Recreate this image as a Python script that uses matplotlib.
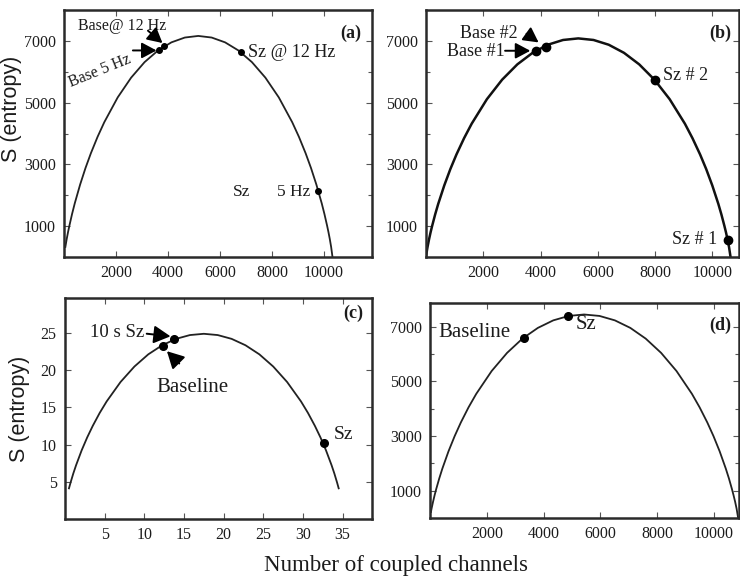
import matplotlib
matplotlib.use("Agg")
import matplotlib.pyplot as plt
from matplotlib.ticker import FixedLocator

# curve and marker values for the four entropy panels
a_x = [52, 103, 155, 207, 310, 413, 620, 826, 1033, 1291, 1550, 2066, 2583, 3099, 3616, 4132, 4649, 5165,
       5681, 6198, 6714, 7231, 7748, 8264, 8780, 9039, 9297, 9504, 9710, 9917, 10020, 10123, 10175, 10227, 10278, 10330]
a_s = [325, 578, 805, 1012, 1392, 1735, 2345, 2880, 3358, 3891, 4366, 5169, 5809, 6311, 6688, 6952, 7108, 7160,
       7108, 6952, 6688, 6311, 5809, 5169, 4366, 3891, 3358, 2880, 2345, 1735, 1392, 1012, 805, 578, 325, 0]
a_pts_x = [3666, 3858, 6808, 9790]
a_pts_s = [6690, 6830, 6630, 2150]

b_x = [0, 32, 53, 106, 159, 213, 319, 425, 638, 850, 1063, 1329, 1595, 2126, 2658, 3189, 3721, 4252, 4784, 5315,
       5847, 6378, 6910, 7441, 7973, 8504, 9036, 9301, 9567, 9780, 9992, 10205, 10311, 10417, 10471, 10524, 10577, 10630]
b_s = [0, 208, 322, 572, 796, 1001, 1377, 1716, 2319, 2848, 3321, 3848, 4318, 5112, 5744, 6240, 6613, 6875, 7029, 7080,
       7029, 6875, 6613, 6240, 5744, 5112, 4318, 3848, 3321, 2848, 2319, 1716, 1377, 1001, 796, 572, 322, 0]
b_pts_x = [3839, 4188, 7993, 10552]
b_pts_s = [6660, 6806, 5730, 540]

c_x = [0.5, 0.7, 1.05, 1.4, 2.1, 2.8, 3.5, 4.375, 5.25, 7, 8.75, 10.5, 12.25, 14, 15.75, 17.5, 19.25, 21, 22.75,
       24.5, 26.25, 28, 29.75, 30.625, 31.5, 32.2, 32.9, 33.6, 33.95, 34.3, 34.5]
c_s = [4.12, 4.89, 6.13, 7.24, 9.23, 10.97, 12.52, 14.26, 15.80, 18.41, 20.49, 22.13, 23.35, 24.21, 24.72, 24.89,
       24.72, 24.21, 23.35, 22.13, 20.49, 18.41, 15.80, 14.26, 12.52, 10.97, 9.23, 7.24, 6.13, 4.89, 4.12]
c_pts_x = [12.35, 13.8, 32.6]
c_pts_s = [23.3, 24.2, 10.2]

d_x = [33, 54, 109, 163, 217, 326, 434, 651, 868, 1085, 1356, 1628, 2170, 2713, 3255, 3798, 4340, 4883, 5425,
       5968, 6510, 7053, 7595, 8138, 8680, 9223, 9494, 9765, 9982, 10199, 10416, 10525, 10633, 10687, 10742, 10796, 10850]
d_s = [219, 338, 601, 836, 1052, 1447, 1803, 2437, 2993, 3490, 4044, 4538, 5372, 6036, 6558, 6950, 7225, 7387, 7440,
       7387, 7225, 6950, 6558, 6036, 5372, 4538, 4044, 3490, 2993, 2437, 1803, 1447, 1052, 836, 601, 338, 0]
d_pts_x = [3310, 4870]
d_pts_s = [6570, 7380]

big_xticks = [2000, 4000, 6000, 8000, 10000]
big_yticks = [1000, 3000, 5000, 7000]
big_yminor = [2000, 4000, 6000]
c_xticks = [5, 10, 15, 20, 25, 30, 35]
c_yticks = [5, 10, 15, 20, 25]

INK = "#1c1c1c"
SERIF = "Liberation Serif"
SANS = "Liberation Sans"

fig = plt.figure(figsize=(7.4, 5.78), dpi=100)
W, H = 740.0, 578.0


def box(l, t, r, b):
    return [l / W, 1 - b / H, (r - l) / W, (b - t) / H]


def style(ax, xticks, yticks, yminor=None):
    ax.set_xticks(xticks)
    ax.set_yticks(yticks)
    if yminor:
        ax.yaxis.set_minor_locator(FixedLocator(yminor))
    ax.tick_params(which="both", direction="in", top=True, right=True, length=4, width=0.8,
                   color="#555555", labelsize=11.5, labelcolor=INK, pad=6)
    ax.tick_params(which="minor", length=3)
    for lab in ax.get_xticklabels() + ax.get_yticklabels():
        lab.set_fontfamily(SERIF)
    for sp in ax.spines.values():
        sp.set_linewidth(1.8)
        sp.set_color("#2a2a2a")


def arrow(ax, start, end, scale=15):
    ax.annotate("", xy=end, xytext=start,
                arrowprops=dict(arrowstyle="-|>,head_length=0.6,head_width=0.32",
                                color="black", lw=1.4, mutation_scale=scale,
                                shrinkA=0, shrinkB=0))


def label(ax, x, y, s, size=12.5, **kw):
    ax.text(x, y, s, fontsize=size, fontfamily=SERIF, color=INK, **kw)


# (a)
ax = fig.add_axes(box(64, 10, 372, 257))
ax.plot(a_x, a_s, color="#222222", lw=1.3)
ax.plot(a_pts_x, a_pts_s, "o", color="black", ms=4)
ax.set_xlim(0, 11850)
ax.set_ylim(0, 8000)
style(ax, big_xticks, big_yticks, big_yminor)
ax.set_ylabel("S (entropy)", fontsize=15.5, fontfamily=SANS, color=INK)
ax.yaxis.set_label_coords(-0.136, 0.60)
label(ax, 540, 7480, "Base@ 12 Hz", size=11.5, va="center")
arrow(ax, (3230, 7330), (3790, 6930))
label(ax, 1400, 6030, "Base 5 Hz", size=11.5, va="center", ha="center", rotation=22)
arrow(ax, (2650, 6690), (3560, 6690))
label(ax, 7080, 6610, "Sz @ 12 Hz", size=13, va="center")
label(ax, 6830, 2100, "Sz", size=12.5, va="center", ha="center")
label(ax, 9460, 2100, "5 Hz", size=12.5, va="center", ha="right")
label(ax, 11040, 7260, "(a)", size=13, va="center", ha="center", fontweight="bold")

# (b)
ax = fig.add_axes(box(426, 10, 739, 257))
ax.plot(b_x, b_s, color="#111111", lw=1.8)
ax.plot(b_pts_x, b_pts_s, "o", color="black", ms=6)
ax.set_xlim(0, 10925)
ax.set_ylim(0, 8000)
style(ax, big_xticks, big_yticks, big_yminor)
label(ax, 1190, 7250, "Base #2", size=13, va="center")
arrow(ax, (3510, 7230), (3930, 6950))
label(ax, 720, 6655, "Base #1", size=13, va="center")
arrow(ax, (2760, 6680), (3640, 6680))
label(ax, 8280, 5870, "Sz # 2", size=13, va="center")
label(ax, 10160, 570, "Sz # 1", size=13, va="center", ha="right")
label(ax, 10260, 7260, "(b)", size=13, va="center", ha="center", fontweight="bold")

# (c)
ax = fig.add_axes(box(65, 298, 372, 519))
ax.plot(c_x, c_s, color="#222222", lw=1.3)
ax.plot(c_pts_x, c_pts_s, "o", color="black", ms=5.5)
ax.set_xlim(0, 38.7)
ax.set_ylim(0, 29.7)
style(ax, c_xticks, c_yticks)
ax.set_ylabel("S (entropy)", fontsize=15.5, fontfamily=SANS, color=INK)
ax.yaxis.set_label_coords(-0.114, 0.50)
label(ax, 3.2, 25.0, "10 s Sz", size=13.5, va="center")
arrow(ax, (10.3, 24.9), (13.3, 24.55), scale=17)
label(ax, 16.1, 17.7, "Baseline", size=15, va="center", ha="center")
arrow(ax, (14.4, 20.9), (12.85, 22.55), scale=17)
label(ax, 35.1, 11.3, "Sz", size=14, va="center", ha="center")
label(ax, 36.3, 27.6, "(c)", size=13, va="center", ha="center", fontweight="bold")

# (d)
ax = fig.add_axes(box(430, 303, 739, 518))
ax.plot(d_x, d_s, color="#222222", lw=1.3)
ax.plot(d_pts_x, d_pts_s, "o", color="black", ms=5.5)
ax.set_xlim(0, 10880)
ax.set_ylim(0, 7860)
style(ax, big_xticks, big_yticks, big_yminor)
label(ax, 290, 6780, "Baseline", size=15, va="center")
label(ax, 5110, 7060, "Sz", size=15, va="center")
label(ax, 10210, 7060, "(d)", size=13, va="center", ha="center", fontweight="bold")

fig.text(396 / W, 1 - 565 / H, "Number of coupled channels", fontsize=16.5,
         fontfamily=SERIF, color=INK, ha="center", va="center")

fig.savefig("out.png", dpi=100, facecolor="white")
